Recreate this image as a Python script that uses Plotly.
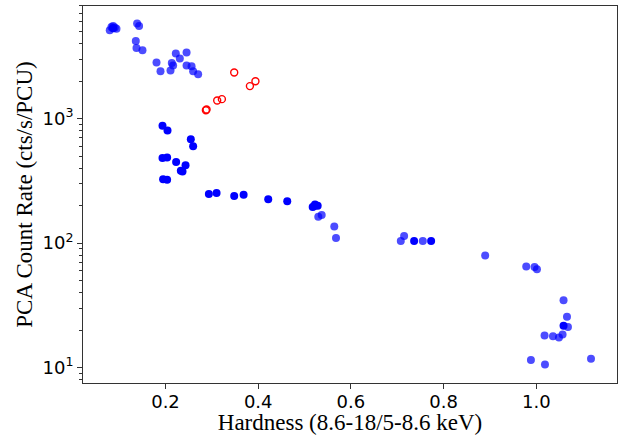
import plotly.graph_objects as go

# Semi-transparent blue points (hardness, count rate)
blue_a_x = [0.0797, 0.0834, 0.0868, 0.0905, 0.0942, 0.1387, 0.1430, 0.1359, 0.1374, 0.1503,
            0.1806, 0.1892, 0.2108, 0.2136, 0.2164, 0.2222, 0.2309, 0.2454, 0.2454, 0.2562,
            0.2596, 0.2704,
            0.5296, 0.5369, 0.5641, 0.5678, 0.7076, 0.7147, 0.7551, 0.8896, 0.9782, 0.9961,
            1.0013, 1.0587, 1.0661, 1.0682, 1.0177, 1.0359, 1.0488, 1.0566, 0.9883, 1.0186,
            1.1179]
blue_a_y = [5110, 5430, 5530, 5370, 5250, 5780, 5530, 4190, 3680, 3530,
            2810, 2390, 2430, 2790, 2660, 3320, 3030, 3380, 2660, 2630,
            2390, 2270,
            163, 168, 136, 110, 103.8, 113.8, 104, 79.6, 65, 64.2,
            61.8, 34.7, 25.6, 21.2, 18.1, 17.9, 17.5, 18.5, 11.5, 10.6,
            11.8]

# Opaque blue points
blue_s_x = [0.1935, 0.2043, 0.2546, 0.2596, 0.1935, 0.2035, 0.2229, 0.2432, 0.2330, 0.2367,
            0.1948, 0.2035, 0.2935, 0.3102, 0.3482, 0.3685, 0.4216, 0.4626, 0.5175, 0.5225,
            0.5283, 0.5203, 0.7363, 0.7730, 1.0587, 0.0868]
blue_s_y = [873, 801, 682, 600, 483, 487, 447, 422, 380, 376,
            326, 322, 248, 252, 239, 244, 225, 217, 195, 204,
            199, 198, 104, 103.8, 21.7, 5300]

# Red open circles
red_x = [0.2871, 0.2886, 0.3115, 0.3216, 0.3482, 0.3821, 0.3940]
red_y = [1166, 1180, 1395, 1430, 2340, 1820, 1990]

x_ticks = [0.2, 0.4, 0.6, 0.8, 1.0]
x_tick_labels = ["0.2", "0.4", "0.6", "0.8", "1.0"]
y_ticks = [10, 100, 1000]
y_tick_labels = ["10<sup>1</sup>", "10<sup>2</sup>", "10<sup>3</sup>"]
y_minor = [m * 10 ** e for e in range(0, 4) for m in range(2, 10)]

fig = go.Figure()
fig.add_trace(go.Scatter(x=blue_a_x, y=blue_a_y, mode="markers",
                         marker=dict(size=8, color="rgba(0,0,255,0.7)", line=dict(width=0)),
                         showlegend=False))
fig.add_trace(go.Scatter(x=blue_s_x, y=blue_s_y, mode="markers",
                         marker=dict(size=8, color="rgb(0,0,255)", line=dict(width=0)),
                         showlegend=False))
fig.add_trace(go.Scatter(x=red_x, y=red_y, mode="markers",
                         marker=dict(size=7, symbol="circle-open", color="red",
                                     line=dict(width=1.4, color="red")),
                         showlegend=False))

axis_font = dict(family="Liberation Serif", size=23, color="black")
tick_font = dict(family="DejaVu Sans", size=18, color="black")

fig.update_layout(
    width=620, height=435,
    margin=dict(l=83, r=3, t=6, b=52),
    paper_bgcolor="white", plot_bgcolor="white",
    xaxis=dict(range=[0.022, 1.174], tickmode="array", tickvals=x_ticks, ticktext=x_tick_labels,
               ticks="outside", ticklen=5, tickwidth=1, tickcolor="#333",
               ticklabelstandoff=-3,
               showline=True, linecolor="#333", linewidth=1, mirror=True,
               showgrid=False, zeroline=False, tickfont=tick_font,
               title=dict(text="Hardness (8.6-18/5-8.6 keV)", font=axis_font, standoff=0)),
    yaxis=dict(type="log", range=[0.877, 3.903], tickmode="array", tickvals=y_ticks,
               ticktext=y_tick_labels, ticks="outside", ticklen=5, tickwidth=1, tickcolor="#333",
               minor=dict(tickmode="array", tickvals=y_minor, ticks="outside", ticklen=3,
                          tickwidth=1, tickcolor="#333", showgrid=False),
               showline=True, linecolor="#333", linewidth=1, mirror=True,
               showgrid=False, zeroline=False, tickfont=tick_font,
               title=dict(text="PCA Count Rate (cts/s/PCU)", font=axis_font, standoff=3)),
)

fig.write_html("out.html")
